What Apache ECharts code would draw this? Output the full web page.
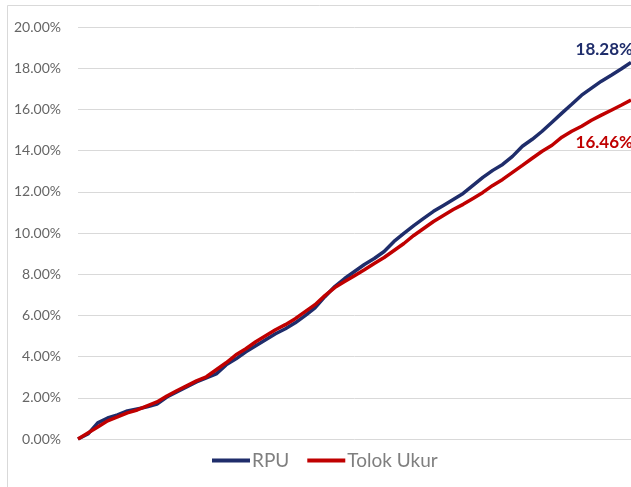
<!DOCTYPE html>
<html>
<head>
<meta charset="utf-8">
<script src="https://cdn.jsdelivr.net/npm/echarts@6/dist/echarts.min.js"></script>
<style>
html,body{margin:0;padding:0;background:#fff;}
#chart{width:631px;height:487px;}
</style>
</head>
<body>
<div id="chart"></div>
<script>
// Sample index along the period (evenly spaced observations)
const periods = Array.from({length: 57}, (_, i) => String(i + 1));

const seriesNames = ['RPU', 'Tolok Ukur'];

// RPU cumulative return (%)
const rpu = [0.00, 0.24, 0.78, 1.02, 1.17, 1.36, 1.46, 1.56, 1.70, 2.04,
  2.29, 2.53, 2.77, 2.97, 3.16, 3.60, 3.89, 4.23, 4.53, 4.82,
  5.11, 5.35, 5.64, 5.99, 6.37, 6.91, 7.40, 7.79, 8.13, 8.47,
  8.76, 9.10, 9.59, 9.98, 10.36, 10.71, 11.05, 11.34, 11.63, 11.92,
  12.31, 12.70, 13.04, 13.33, 13.72, 14.21, 14.55, 14.94, 15.38, 15.82,
  16.25, 16.69, 17.03, 17.37, 17.66, 17.96, 18.28];

// Tolok Ukur (benchmark) cumulative return (%)
const tolokUkur = [0.00, 0.29, 0.58, 0.88, 1.07, 1.27, 1.41, 1.61, 1.80, 2.09,
  2.34, 2.58, 2.82, 3.02, 3.36, 3.70, 4.09, 4.38, 4.72, 5.01,
  5.30, 5.55, 5.84, 6.18, 6.52, 6.96, 7.35, 7.64, 7.93, 8.22,
  8.52, 8.81, 9.15, 9.49, 9.88, 10.22, 10.56, 10.85, 11.14, 11.39,
  11.68, 11.97, 12.31, 12.60, 12.94, 13.28, 13.63, 13.97, 14.26, 14.65,
  14.94, 15.18, 15.47, 15.72, 15.96, 16.20, 16.46];

const yTicks = [0, 2, 4, 6, 8, 10, 12, 14, 16, 18, 20];

const chart = echarts.init(document.getElementById('chart'), null, {renderer: 'canvas'});
const FONT = 'Lato, "Open Sans", sans-serif';

chart.setOption({
  animation: false,
  backgroundColor: '#ffffff',
  graphic: [{
    type: 'rect',
    shape: {x: 7.5, y: 5.5, width: 700, height: 600},
    style: {fill: 'none', stroke: '#d9d9d9', lineWidth: 1},
    silent: true
  }],
  grid: {left: 78, right: 0, top: 27, bottom: 48, containLabel: false},
  legend: {
    data: seriesNames,
    bottom: 12,
    left: 207,
    itemWidth: 38,
    itemHeight: 4,
    itemGap: 18,
    icon: 'rect',
    textStyle: {fontFamily: FONT, fontSize: 19, color: '#7f7f7f', padding: [0, 0, 0, -3]}
  },
  xAxis: {
    type: 'category',
    data: periods,
    boundaryGap: false,
    axisLine: {show: false},
    axisTick: {show: false},
    axisLabel: {show: false},
    splitLine: {show: false}
  },
  yAxis: {
    type: 'value',
    min: yTicks[0],
    max: yTicks[yTicks.length - 1],
    interval: 2,
    axisLine: {show: false},
    axisTick: {show: false},
    axisLabel: {
      margin: 17,
      fontFamily: FONT,
      fontSize: 14,
      color: '#666666',
      formatter: v => v.toFixed(2) + '%'
    },
    splitLine: {lineStyle: {color: '#d9d9d9', width: 1}}
  },
  series: [
    {
      name: seriesNames[0],
      type: 'line',
      data: rpu,
      showSymbol: false,
      symbol: 'none',
      z: 3,
      lineStyle: {color: '#1f2d6b', width: 3.5},
      itemStyle: {color: '#1f2d6b'},
      endLabel: {
        show: true,
        formatter: () => rpu[rpu.length - 1].toFixed(2) + '%',
        align: 'right',
        verticalAlign: 'middle',
        offset: [-6, -13],
        fontFamily: FONT,
        fontSize: 17,
        fontWeight: 'bold',
        color: '#1f2d6b'
      }
    },
    {
      name: seriesNames[1],
      type: 'line',
      data: tolokUkur,
      showSymbol: false,
      symbol: 'none',
      z: 4,
      lineStyle: {color: '#c00000', width: 3.5},
      itemStyle: {color: '#c00000'},
      endLabel: {
        show: true,
        formatter: () => tolokUkur[tolokUkur.length - 1].toFixed(2) + '%',
        align: 'right',
        verticalAlign: 'middle',
        offset: [-6, 43],
        fontFamily: FONT,
        fontSize: 17,
        fontWeight: 'bold',
        color: '#c00000'
      }
    }
  ]
});
</script>
</body>
</html>
